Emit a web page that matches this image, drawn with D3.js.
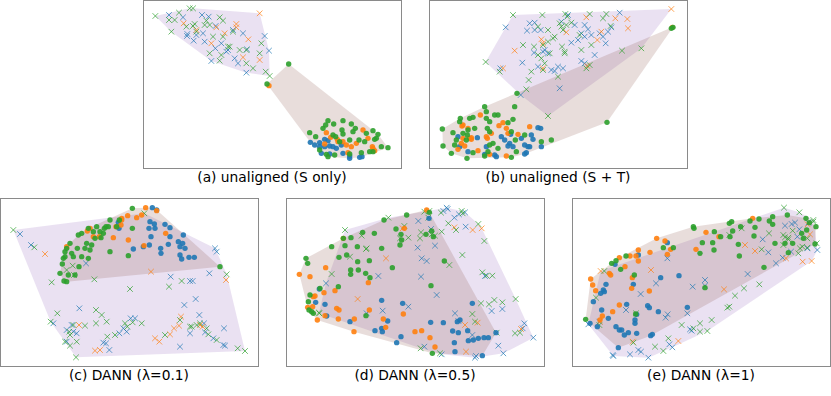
<!DOCTYPE html>
<html>
<head>
<meta charset="utf-8">
<script src="https://cdn.jsdelivr.net/npm/d3@7"></script>
<style>
  body { margin: 0; background: #fff; }
  svg { display: block; }
  .label { font-family: "DejaVu Sans", sans-serif; font-size: 13.8px; fill: #000; }
</style>
</head>
<body>
<div id="chart"></div>
<script>
// --- Data: 2-D embedding coordinates (circles = source, crosses = target) ---

// (a) unaligned (S only)
const aCircBlue = [[502,427],[515,435],[530,440],[545,440],[555,422],[560,438],[570,440],[580,445],[595,435],[600,460],[620,475],[650,472],[560,462],[535,460],[530,428],[545,418],[620,468],[657,470]];
const aCircOrange = [[378,257],[550,398],[563,412],[545,432],[585,425],[610,435],[625,440],[640,430],[660,390],[675,415],[688,440],[695,452],[615,458],[690,445],[600,425],[583,418]];
const aCircGreen = [[437,192],[372,252],[555,362],[600,362],[572,372],[540,385],[548,375],[500,398],[518,410],[570,405],[597,390],[625,372],[637,385],[630,395],[670,400],[690,392],[705,403],[700,415],[735,443],[715,440],[690,455],[680,455],[655,458],[620,462],[575,465],[550,463],[555,470],[590,425],[620,420],[648,420],[665,425],[600,402],[578,410],[530,450],[695,418]];
const aXBlue = [[78,45],[120,52],[177,45],[197,50],[218,78],[133,102],[132,108],[152,122],[185,125],[217,145],[255,150],[275,175],[285,190],[205,183],[310,218],[312,148],[365,108],[378,152],[270,90],[300,100],[160,105],[250,155],[235,130],[180,100]];
const aXOrange = [[122,70],[220,82],[280,72],[280,82],[316,118],[350,40],[350,180],[205,130],[160,90],[300,172],[245,100]];
const aXGreen = [[37,48],[140,25],[150,25],[108,38],[85,95],[78,60],[95,60],[155,72],[190,62],[230,52],[240,62],[185,75],[160,95],[210,110],[240,110],[270,95],[255,140],[235,165],[200,160],[230,182],[260,140],[290,150],[310,190],[330,205],[355,130],[350,160],[368,215],[380,228],[310,150],[150,78],[130,80],[200,75]];

// (b) unaligned (S + T)
const bCircBlue = [[90,410],[148,413],[220,410],[248,403],[230,420],[245,430],[240,438],[255,440],[280,415],[310,405],[315,418],[330,383],[338,385],[290,435],[300,440],[295,458],[290,462],[340,440],[175,440],[95,440],[120,455],[170,463],[200,465],[205,470],[305,440]];
const bCircOrange = [[733,82],[157,345],[105,375],[102,378],[120,385],[213,377],[225,368],[235,385],[240,400],[270,403],[305,380],[190,400],[130,413],[105,415],[100,430],[110,438],[125,415],[130,418],[90,448],[175,410],[185,463],[235,468],[150,452],[178,415]];
const bCircGreen = [[735,82],[730,85],[267,280],[260,320],[170,320],[175,335],[200,345],[210,345],[97,355],[95,365],[125,355],[135,352],[175,355],[185,365],[240,368],[255,358],[43,387],[75,398],[105,400],[140,385],[178,385],[185,395],[250,395],[290,405],[370,420],[340,425],[195,430],[210,445],[80,435],[85,420],[45,438],[70,460],[117,475],[135,458],[180,455],[170,468],[250,472],[265,455],[262,420],[185,435],[118,405],[115,420],[537,367],[120,390]];
const bXBlue = [[233,82],[305,70],[320,68],[297,92],[320,90],[338,90],[400,65],[420,45],[440,75],[470,75],[480,88],[460,100],[470,110],[490,105],[515,100],[525,110],[540,95],[550,82],[575,38],[430,128],[450,120],[318,158],[350,150],[360,160],[345,155],[390,200],[370,210],[380,213],[405,205],[330,200],[460,183],[470,190],[500,165],[533,130],[217,205],[283,188],[395,265],[278,285]];
const bXOrange = [[730,27],[598,57],[600,85],[562,55],[475,52],[415,97],[340,118],[345,130],[260,152],[225,205],[345,205],[478,198],[508,120],[520,95]];
const bXGreen = [[255,45],[343,45],[412,42],[418,50],[485,42],[535,42],[525,55],[360,90],[330,80],[395,70],[400,80],[405,90],[430,68],[415,75],[285,135],[318,140],[345,135],[360,125],[375,115],[380,110],[330,165],[340,175],[350,190],[310,215],[345,210],[390,230],[402,140],[410,155],[410,160],[460,150],[455,105],[490,135],[485,195],[475,205],[548,78],[582,152],[640,145],[302,240],[295,268],[360,348],[173,186],[215,215],[365,160]];

// (c) DANN (lambda=0.1)
const cCircBlue = [[457,38],[470,45],[450,80],[463,87],[447,100],[495,88],[510,98],[510,125],[453,125],[448,150],[430,155],[400,162],[482,160],[483,175],[505,148],[535,140],[540,155],[550,120],[548,145],[555,160],[540,180],[545,192],[567,187],[583,187],[357,100],[355,82],[465,100]];
const cCircOrange = [[437,38],[470,47],[410,68],[425,60],[383,62],[365,75],[363,90],[365,70],[340,128],[385,135],[270,100],[262,108],[280,125],[298,125],[432,152],[497,115],[200,155],[348,95]];
const cCircGreen = [[397,40],[330,75],[313,100],[318,95],[290,95],[265,100],[245,115],[235,120],[210,145],[200,160],[195,170],[195,185],[190,190],[215,175],[220,185],[232,160],[245,185],[260,145],[255,160],[275,150],[270,165],[265,190],[285,130],[303,128],[310,115],[325,95],[350,95],[358,75],[397,100],[385,182],[330,170],[187,207],[180,235],[205,240],[225,240],[200,260],[192,258],[237,215],[660,215],[280,110],[300,110]];
const cXBlue = [[60,117],[93,150],[258,205],[160,385],[238,340],[215,390],[200,405],[220,410],[200,440],[230,415],[310,443],[318,445],[328,465],[358,415],[370,400],[380,410],[392,370],[405,370],[512,245],[570,258],[578,258],[628,235],[553,330],[587,312],[598,360],[612,385],[615,412],[640,430],[670,450],[675,452],[672,400],[540,455],[645,160],[650,170],[570,415]];
const cXOrange = [[135,177],[453,230],[678,255],[237,390],[285,467],[300,465],[465,430],[478,440],[510,418],[522,400],[537,392],[543,365],[600,390],[608,395]];
const cXGreen = [[40,105],[103,157],[155,262],[172,355],[152,380],[218,212],[222,240],[200,225],[283,253],[288,345],[305,360],[320,380],[288,385],[255,392],[220,390],[208,410],[210,420],[195,440],[230,440],[210,452],[228,487],[322,425],[345,420],[375,385],[382,395],[398,382],[425,385],[390,282],[545,258],[507,275],[540,375],[575,395],[590,390],[600,385],[620,400],[625,418],[650,435],[713,460],[735,468],[680,238],[495,420],[433,55],[570,395]];

// (d) DANN (lambda=0.5)
const dCircBlue = [[103,282],[92,322],[120,328],[125,363],[195,380],[270,407],[290,400],[292,410],[308,378],[290,316],[353,325],[348,425],[335,443],[437,382],[475,383],[503,408],[520,413],[517,380],[525,375],[548,407],[562,325],[550,437],[565,435],[580,430],[597,428],[610,428],[633,413],[508,443],[510,470],[592,482],[432,70]];
const dCircOrange = [[175,130],[43,238],[122,218],[75,245],[85,305],[90,303],[68,337],[83,335],[117,293],[150,287],[155,340],[162,345],[120,362],[97,375],[160,372],[207,410],[208,372],[253,345],[250,263],[295,372],[302,397],[355,357],[390,410],[410,407],[435,428],[450,456],[425,45],[358,100]];
const dCircGreen = [[63,190],[68,205],[140,155],[175,130],[198,128],[180,152],[217,155],[233,112],[268,115],[297,75],[333,102],[348,118],[365,60],[350,135],[345,150],[290,160],[322,218],[218,200],[220,225],[197,225],[197,238],[242,235],[255,248],[253,197],[185,180],[162,187],[433,52],[423,118],[440,108],[445,125],[478,198],[438,272],[105,280],[160,275],[75,300],[70,320],[72,345],[80,350],[243,362],[442,475],[85,355]];
const dXBlue = [[400,78],[438,102],[450,152],[398,158],[410,190],[425,198],[280,243],[408,245],[455,300],[293,347],[370,335],[245,355],[510,355],[520,378],[485,38],[488,42],[475,48],[508,68],[522,58],[540,52],[542,95],[600,243],[620,348],[652,342],[718,385],[713,400],[745,428],[655,475],[570,488],[573,483],[562,420],[470,478],[640,452],[123,265],[418,455]];
const dXOrange = [[303,190],[218,312],[353,100],[508,97],[563,105],[590,100],[540,390],[578,383],[708,402],[543,470]];
const dXGreen = [[180,105],[230,122],[245,160],[195,185],[140,237],[102,353],[310,68],[358,93],[345,130],[370,128],[405,130],[408,112],[418,50],[433,48],[430,68],[440,118],[450,122],[468,53],[470,110],[490,85],[513,105],[530,48],[533,55],[580,87],[598,138],[532,180],[493,210],[592,232],[605,242],[622,242],[588,325],[612,328],[628,315],[652,322],[692,312],[562,357],[570,380],[635,413],[690,415],[705,413],[407,460],[465,475],[103,355],[243,162]];

// (e) DANN (lambda=1)
const eCircBlue = [[70,320],[92,295],[100,285],[108,268],[103,290],[60,385],[82,395],[115,370],[95,345],[135,208],[205,180],[190,268],[170,328],[200,358],[195,375],[195,385],[138,395],[148,405],[155,405],[163,420],[175,413],[200,415],[233,332],[238,338],[265,350],[272,248],[327,242],[352,337],[242,422],[247,418],[145,458],[292,143]];
const eCircOrange = [[62,252],[68,270],[77,287],[118,235],[122,240],[148,188],[165,215],[180,183],[198,183],[205,165],[205,198],[187,248],[185,280],[240,172],[238,288],[260,130],[285,138],[292,178],[302,163],[378,163],[408,112],[447,125],[548,70],[128,350],[97,363],[148,330],[90,375]];
const eCircGreen = [[47,373],[125,205],[138,197],[152,223],[168,183],[193,240],[197,357],[280,158],[310,158],[370,95],[372,100],[397,143],[433,110],[428,143],[432,165],[390,175],[452,125],[478,85],[485,80],[488,108],[480,125],[512,95],[505,148],[508,183],[540,78],[555,97],[552,123],[567,72],[598,78],[608,88],[608,65],[652,60],[615,145],[582,217],[405,278],[645,145],[668,145],[708,70],[718,83],[738,95],[695,115],[710,105],[735,147],[655,173],[700,130]];
const eXBlue = [[292,190],[258,265],[212,297],[168,345],[352,355],[293,358],[287,368],[368,275],[405,255],[405,272],[533,237],[578,133],[595,172],[618,205],[638,188],[663,170],[682,125],[675,83],[665,87],[688,103],[715,83],[742,165],[712,160],[360,403],[365,407],[298,448],[307,457],[235,488],[205,465],[213,470],[180,478],[128,480],[130,483],[55,388],[88,380],[645,92]];
const eXOrange = [[92,228],[243,225],[555,168],[525,150],[462,283],[648,190],[698,200],[725,198],[720,118],[713,88],[325,438],[188,440],[90,380]];
const eXGreen = [[78,308],[103,228],[88,390],[198,355],[515,100],[478,120],[597,115],[640,120],[645,127],[655,128],[655,133],[640,150],[668,107],[685,175],[697,155],[690,160],[712,130],[712,158],[730,75],[740,145],[642,38],[688,52],[730,80],[575,163],[568,268],[522,280],[495,302],[478,335],[472,338],[425,375],[390,385],[412,408],[390,410],[370,400],[335,390],[255,455],[280,468],[295,430],[190,443]];

const classColors = { blue: "#1f77b4", orange: "#ff7f0e", green: "#2ca02c" };
const classOrder = ["blue", "orange", "green"];

const panels = [
    { label: "(a) unaligned (S only)", frame: [143, 0, 258, 168], xDom: [0, 774], yDom: [0, 504],
      circ: { blue: aCircBlue, orange: aCircOrange, green: aCircGreen }, cross: { blue: aXBlue, orange: aXOrange, green: aXGreen } },
    { label: "(b) unaligned (S + T)", frame: [429, 0, 258, 168], xDom: [3, 777], yDom: [0, 504],
      circ: { blue: bCircBlue, orange: bCircOrange, green: bCircGreen }, cross: { blue: bXBlue, orange: bXOrange, green: bXGreen } },
    { label: "(c) DANN (λ=0.1)", frame: [0, 198, 258, 168], xDom: [0, 774], yDom: [9, 513],
      circ: { blue: cCircBlue, orange: cCircOrange, green: cCircGreen }, cross: { blue: cXBlue, orange: cXOrange, green: cXGreen } },
    { label: "(d) DANN (λ=0.5)", frame: [286, 198, 258, 168], xDom: [3, 777], yDom: [9, 513],
      circ: { blue: dCircBlue, orange: dCircOrange, green: dCircGreen }, cross: { blue: dXBlue, orange: dXOrange, green: dXGreen } },
    { label: "(e) DANN (λ=1)", frame: [572, 198, 258, 168], xDom: [6, 780], yDom: [9, 513],
      circ: { blue: eCircBlue, orange: eCircOrange, green: eCircGreen }, cross: { blue: eXBlue, orange: eXOrange, green: eXGreen } }
];

const W = 831, H = 396;
const svg = d3.select("#chart").append("svg").attr("width", W).attr("height", H);

panels.forEach(p => {
    const [fx, fy, fw, fh] = p.frame;
    const x = d3.scaleLinear().domain(p.xDom).range([fx, fx + fw]);
    const y = d3.scaleLinear().domain(p.yDom).range([fy, fy + fh]);
    const g = svg.append("g");

    // hulls (computed from the points, not typed)
    const circPts = classOrder.flatMap(c => p.circ[c]).map(d => [x(d[0]), y(d[1])]);
    const crossPts = classOrder.flatMap(c => p.cross[c]).map(d => [x(d[0]), y(d[1])]);
    const hullCross = d3.polygonHull(crossPts), hullCirc = d3.polygonHull(circPts);
    g.append("path").attr("d", "M" + hullCross.join("L") + "Z")
        .attr("fill", "#9467bd").attr("fill-opacity", 0.2);
    g.append("path").attr("d", "M" + hullCirc.join("L") + "Z")
        .attr("fill", "#8c564b").attr("fill-opacity", 0.2);

    // crosses (target)
    const s = 2.8;
    classOrder.forEach(c => {
        g.append("g").selectAll("path").data(p.cross[c]).join("path")
            .attr("d", d => {
                const px = x(d[0]), py = y(d[1]);
                return `M${px - s},${py - s}L${px + s},${py + s}M${px - s},${py + s}L${px + s},${py - s}`;
            })
            .attr("stroke", classColors[c]).attr("stroke-width", 1).attr("stroke-opacity", 0.7).attr("fill", "none");
    });

    // circles (source)
    classOrder.forEach(c => {
        g.append("g").selectAll("circle").data(p.circ[c]).join("circle")
            .attr("cx", d => x(d[0])).attr("cy", d => y(d[1])).attr("r", 2.7)
            .attr("fill", classColors[c]).attr("fill-opacity", 0.9);
    });

    // frame
    g.append("rect").attr("x", fx + 0.5).attr("y", fy + 0.5).attr("width", fw).attr("height", fh)
        .attr("fill", "none").attr("stroke", "#8a8a8a").attr("stroke-width", 1);

    g.append("text").attr("class", "label").attr("x", fx + fw / 2).attr("y", fy + fh + 14)
        .attr("text-anchor", "middle").text(p.label);
});
</script>
</body>
</html>
